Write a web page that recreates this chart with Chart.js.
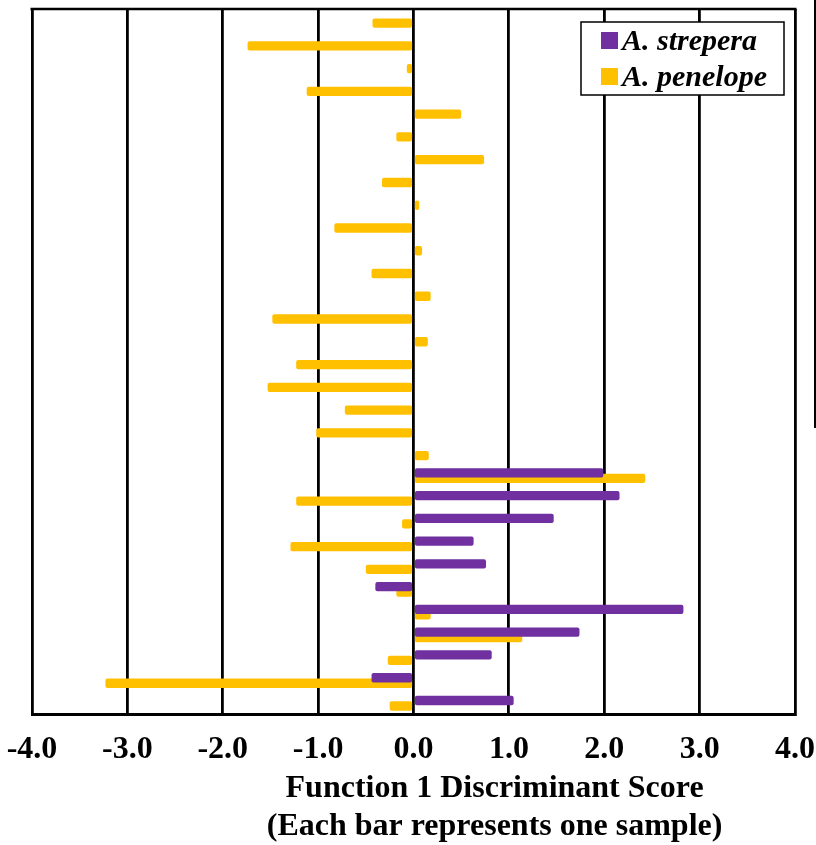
<!DOCTYPE html>
<html>
<head>
<meta charset="utf-8">
<script src="https://cdn.jsdelivr.net/npm/chart.js@4/dist/chart.umd.min.js"></script>
<style>
  body { margin: 0; background: #fff; }
  #wrap { position: relative; width: 816px; height: 845px; }
  #edge { position: absolute; left: 814px; top: 0; width: 2px; height: 428px; background: #000; }
</style>
</head>
<body>
<div id="wrap">
  <canvas id="chart"></canvas>
  <div id="edge"></div>
</div>
<script>
// one row per sample, top to bottom
const samples = ['1', '2', '3', '4', '5', '6', '7', '8', '9', '10', '11', '12', '13', '14', '15', '16',
    '17', '18', '19', '20', '21', '22', '23', '24', '25', '26', '27', '28', '29', '30', '31'];

const strepera = [null, null, null, null, null, null, null, null, null, null, null, null, null, null,
    null, null, null, null, null, null,
    1.99, 2.16, 1.47, 0.63, 0.76, -0.40, 2.83, 1.74, 0.82, -0.44, 1.05];

const penelope = [-0.43, -1.74, -0.07, -1.12, 0.50, -0.18, 0.74, -0.33, 0.06, -0.83, 0.09, -0.44,
    0.18, -1.48, 0.15, -1.23, -1.53, -0.72, -1.02, 0.16,
    2.43, -1.23, -0.12, -1.29, -0.50, -0.18, 0.18, 1.14, -0.27, -3.23, -0.25];

const xTicks = [-4, -3, -2, -1, 0, 1, 2, 3, 4];
const xTitle = ['Function 1 Discriminant Score', '(Each bar represents one sample)'];

const serif = "'Times New Roman', 'Liberation Serif', serif";

// top edge of the plot frame, legend box inside the plot, axis title (sits right of centre)
const framePlugin = {
    id: 'frame',
    afterDraw(chart) {
        const ctx = chart.ctx;
        const a = chart.chartArea;
        ctx.save();
        ctx.strokeStyle = '#000';
        ctx.lineWidth = 2.5;
        ctx.beginPath();
        ctx.moveTo(a.left - 1.5, a.top);
        ctx.lineTo(a.right + 1.5, a.top);
        ctx.stroke();

        // legend
        const bx = a.right - 214, by = a.top + 13, bw = 203, bh = 73;
        ctx.fillStyle = '#fff';
        ctx.fillRect(bx, by, bw, bh);
        ctx.lineWidth = 1.5;
        ctx.strokeRect(bx, by, bw, bh);
        ctx.font = 'italic bold 30px ' + serif;
        ctx.textBaseline = 'alphabetic';
        chart.data.datasets.forEach((ds, i) => {
            const sy = by + 10 + i * 36;
            ctx.fillStyle = ds.backgroundColor;
            ctx.fillRect(bx + 20, sy, 17, 17);
            ctx.fillStyle = '#000';
            ctx.fillText(ds.label, bx + 41, sy + 18);
        });

        // x title
        ctx.font = 'bold 32px ' + serif;
        ctx.textAlign = 'center';
        ctx.textBaseline = 'middle';
        ctx.fillStyle = '#000';
        const cx = chart.scales.x.getPixelForValue(0.85);
        xTitle.forEach((t, i) => ctx.fillText(t, cx, a.bottom + 74 + i * 38));
        ctx.restore();
    }
};

window.addEventListener('DOMContentLoaded', () => {
    new Chart(document.getElementById('chart'), {
        type: 'bar',
        data: {
            labels: samples,
            datasets: [
                { label: 'A. strepera', data: strepera, backgroundColor: '#7030A0' },
                { label: 'A. penelope', data: penelope, backgroundColor: '#FFC000' }
            ]
        },
        options: {
            indexAxis: 'y',
            responsive: true,
            maintainAspectRatio: false,
            animation: false,
            categoryPercentage: 0.483,
            barPercentage: 1.7,
            borderRadius: 2,
            borderSkipped: false,
            layout: { padding: { left: 32, right: 21, top: 9, bottom: 76 } },
            plugins: {
                legend: { display: false },
                tooltip: { enabled: false }
            },
            scales: {
                x: {
                    type: 'linear',
                    min: -4,
                    max: 4,
                    afterBuildTicks: (s) => { s.ticks = xTicks.map(v => ({ value: v })); },
                    grid: { color: '#000', lineWidth: 2.8, drawTicks: true, tickLength: 16, tickColor: 'rgba(0,0,0,0)' },
                    border: { color: '#000', width: 3 },
                    ticks: {
                        color: '#000',
                        padding: 0,
                        font: { family: serif, size: 32, weight: 'bold' },
                        callback: (v) => Number(v).toFixed(1)
                    }
                },
                y: {
                    display: false
                }
            }
        },
        plugins: [framePlugin]
    });
});
</script>
</body>
</html>
